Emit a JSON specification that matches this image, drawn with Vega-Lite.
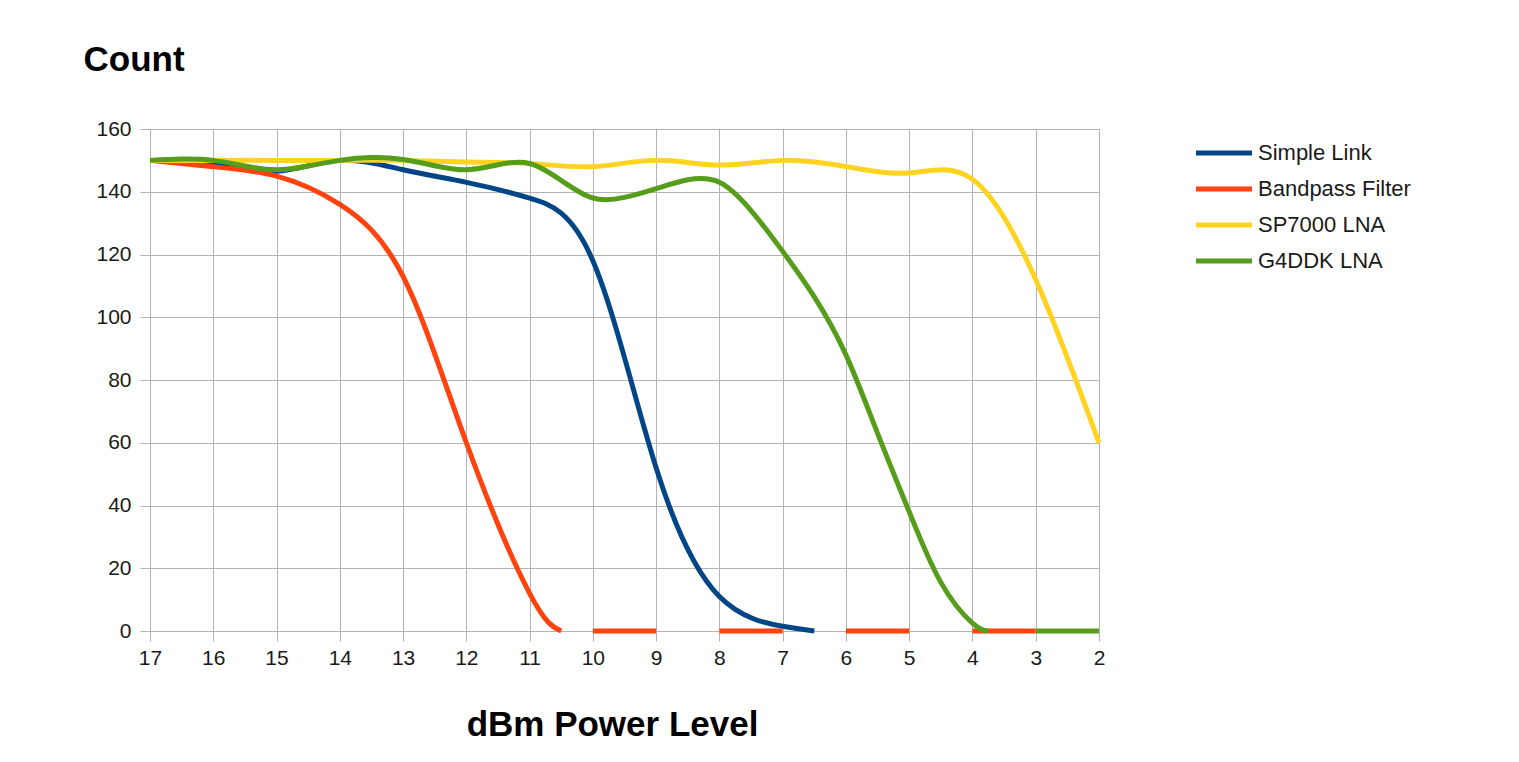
{
  "$schema": "https://vega.github.io/schema/vega-lite/v6.json",
  "width": 949,
  "height": 502,
  "autosize": {"type": "none"},
  "padding": {"left": 150, "top": 129, "right": 420, "bottom": 131},
  "background": "#ffffff",
  "config": {
    "view": {"stroke": null},
    "font": "Liberation Sans",
    "axis": {
      "gridColor": "#b3b3b3",
      "gridWidth": 1,
      "tickColor": "#b3b3b3",
      "tickSize": 10,
      "domain": false,
      "labelFont": "Liberation Sans",
      "labelFontSize": 21,
      "labelColor": "#1a1a1a",
      "labelFlush": false,
      "labelOverlap": false,
      "labelBound": false,
      "titleFont": "Liberation Sans",
      "titleFontSize": 35,
      "titleFontWeight": "bold",
      "titleColor": "#000000"
    }
  },
  "data": {
    "values": [
      {"series": "Simple Link", "seg": 1, "dbm": 17, "count": 150},
      {"series": "Simple Link", "seg": 1, "dbm": 16, "count": 149},
      {"series": "Simple Link", "seg": 1, "dbm": 15, "count": 146.5},
      {"series": "Simple Link", "seg": 1, "dbm": 14, "count": 150},
      {"series": "Simple Link", "seg": 1, "dbm": 13, "count": 147},
      {"series": "Simple Link", "seg": 1, "dbm": 12, "count": 143},
      {"series": "Simple Link", "seg": 1, "dbm": 11, "count": 138},
      {"series": "Simple Link", "seg": 1, "dbm": 10, "count": 118},
      {"series": "Simple Link", "seg": 1, "dbm": 9, "count": 52},
      {"series": "Simple Link", "seg": 1, "dbm": 8, "count": 11},
      {"series": "Simple Link", "seg": 1, "dbm": 7, "count": 1.5},
      {"series": "Simple Link", "seg": 1, "dbm": 6.5, "count": 0},

      {"series": "Bandpass Filter", "seg": 1, "dbm": 17, "count": 150},
      {"series": "Bandpass Filter", "seg": 1, "dbm": 16, "count": 148},
      {"series": "Bandpass Filter", "seg": 1, "dbm": 15, "count": 145},
      {"series": "Bandpass Filter", "seg": 1, "dbm": 14, "count": 136},
      {"series": "Bandpass Filter", "seg": 1, "dbm": 13, "count": 113},
      {"series": "Bandpass Filter", "seg": 1, "dbm": 12, "count": 60},
      {"series": "Bandpass Filter", "seg": 1, "dbm": 11, "count": 12},
      {"series": "Bandpass Filter", "seg": 1, "dbm": 10.5, "count": 0},
      {"series": "Bandpass Filter", "seg": 2, "dbm": 10, "count": 0},
      {"series": "Bandpass Filter", "seg": 2, "dbm": 9, "count": 0},
      {"series": "Bandpass Filter", "seg": 3, "dbm": 8, "count": 0},
      {"series": "Bandpass Filter", "seg": 3, "dbm": 7, "count": 0},
      {"series": "Bandpass Filter", "seg": 4, "dbm": 6, "count": 0},
      {"series": "Bandpass Filter", "seg": 4, "dbm": 5, "count": 0},
      {"series": "Bandpass Filter", "seg": 5, "dbm": 4, "count": 0},
      {"series": "Bandpass Filter", "seg": 5, "dbm": 3, "count": 0},

      {"series": "SP7000 LNA", "seg": 1, "dbm": 17, "count": 150},
      {"series": "SP7000 LNA", "seg": 1, "dbm": 16, "count": 150},
      {"series": "SP7000 LNA", "seg": 1, "dbm": 15, "count": 150},
      {"series": "SP7000 LNA", "seg": 1, "dbm": 14, "count": 150},
      {"series": "SP7000 LNA", "seg": 1, "dbm": 13, "count": 150},
      {"series": "SP7000 LNA", "seg": 1, "dbm": 12, "count": 149.5},
      {"series": "SP7000 LNA", "seg": 1, "dbm": 11, "count": 149},
      {"series": "SP7000 LNA", "seg": 1, "dbm": 10, "count": 148},
      {"series": "SP7000 LNA", "seg": 1, "dbm": 9, "count": 150},
      {"series": "SP7000 LNA", "seg": 1, "dbm": 8, "count": 148.5},
      {"series": "SP7000 LNA", "seg": 1, "dbm": 7, "count": 150},
      {"series": "SP7000 LNA", "seg": 1, "dbm": 6, "count": 148},
      {"series": "SP7000 LNA", "seg": 1, "dbm": 5, "count": 146},
      {"series": "SP7000 LNA", "seg": 1, "dbm": 4, "count": 144},
      {"series": "SP7000 LNA", "seg": 1, "dbm": 3, "count": 112},
      {"series": "SP7000 LNA", "seg": 1, "dbm": 2, "count": 60},

      {"series": "G4DDK LNA", "seg": 1, "dbm": 17, "count": 150},
      {"series": "G4DDK LNA", "seg": 1, "dbm": 16.5, "count": 150.4},
      {"series": "G4DDK LNA", "seg": 1, "dbm": 16, "count": 150},
      {"series": "G4DDK LNA", "seg": 1, "dbm": 15.5, "count": 148.2},
      {"series": "G4DDK LNA", "seg": 1, "dbm": 15, "count": 147},
      {"series": "G4DDK LNA", "seg": 1, "dbm": 14.5, "count": 148.2},
      {"series": "G4DDK LNA", "seg": 1, "dbm": 14, "count": 150},
      {"series": "G4DDK LNA", "seg": 1, "dbm": 13.5, "count": 150.9},
      {"series": "G4DDK LNA", "seg": 1, "dbm": 13, "count": 150.3},
      {"series": "G4DDK LNA", "seg": 1, "dbm": 12.5, "count": 148.3},
      {"series": "G4DDK LNA", "seg": 1, "dbm": 12, "count": 147},
      {"series": "G4DDK LNA", "seg": 1, "dbm": 11.5, "count": 148.6},
      {"series": "G4DDK LNA", "seg": 1, "dbm": 11, "count": 149},
      {"series": "G4DDK LNA", "seg": 1, "dbm": 10.5, "count": 143.6},
      {"series": "G4DDK LNA", "seg": 1, "dbm": 10, "count": 138},
      {"series": "G4DDK LNA", "seg": 1, "dbm": 9.5, "count": 138.2},
      {"series": "G4DDK LNA", "seg": 1, "dbm": 9, "count": 141},
      {"series": "G4DDK LNA", "seg": 1, "dbm": 8.5, "count": 143.8},
      {"series": "G4DDK LNA", "seg": 1, "dbm": 8, "count": 143},
      {"series": "G4DDK LNA", "seg": 1, "dbm": 7.5, "count": 134},
      {"series": "G4DDK LNA", "seg": 1, "dbm": 7, "count": 121},
      {"series": "G4DDK LNA", "seg": 1, "dbm": 6.5, "count": 106.5},
      {"series": "G4DDK LNA", "seg": 1, "dbm": 6, "count": 88},
      {"series": "G4DDK LNA", "seg": 1, "dbm": 5.5, "count": 63},
      {"series": "G4DDK LNA", "seg": 1, "dbm": 5, "count": 38},
      {"series": "G4DDK LNA", "seg": 1, "dbm": 4.5, "count": 15.5},
      {"series": "G4DDK LNA", "seg": 1, "dbm": 4, "count": 2.5},
      {"series": "G4DDK LNA", "seg": 1, "dbm": 3.75, "count": 0},
      {"series": "G4DDK LNA", "seg": 2, "dbm": 3, "count": 0},
      {"series": "G4DDK LNA", "seg": 2, "dbm": 2, "count": 0}
    ]
  },
  "mark": {"type": "line", "strokeWidth": 5, "interpolate": "natural"},
  "encoding": {
    "x": {
      "field": "dbm",
      "type": "quantitative",
      "scale": {"domain": [2, 17], "reverse": true, "nice": false, "zero": false},
      "axis": {
        "values": [17, 16, 15, 14, 13, 12, 11, 10, 9, 8, 7, 6, 5, 4, 3, 2],
        "format": "d",
        "labelPadding": 6,
        "title": "dBm Power Level",
        "titleX": 462,
        "titleY": 104,
        "titleAnchor": null,
        "titleAlign": "center",
        "titleBaseline": "alphabetic"
      }
    },
    "y": {
      "field": "count",
      "type": "quantitative",
      "scale": {"domain": [0, 160], "nice": false},
      "axis": {
        "values": [0, 20, 40, 60, 80, 100, 120, 140, 160],
        "labelPadding": 9,
        "title": "Count",
        "titleAngle": 0,
        "titleX": -67,
        "titleY": -59,
        "titleAlign": "left",
        "titleBaseline": "alphabetic"
      }
    },
    "color": {
      "field": "series",
      "type": "nominal",
      "scale": {
        "domain": ["Simple Link", "Bandpass Filter", "SP7000 LNA", "G4DDK LNA"],
        "range": ["#004586", "#ff420e", "#ffd320", "#579d1c"]
      },
      "legend": {
        "title": null,
        "orient": "none",
        "legendX": 1063,
        "legendY": 13,
        "padding": 0,
        "symbolType": "M-5.6,0H5.6",
        "symbolSize": 100,
        "symbolStrokeWidth": 5,
        "labelFont": "Liberation Sans",
        "labelFontSize": 22,
        "labelColor": "#1a1a1a",
        "labelOffset": 23,
        "rowPadding": 14
      }
    },
    "detail": {"field": "seg", "type": "nominal"}
  }
}
